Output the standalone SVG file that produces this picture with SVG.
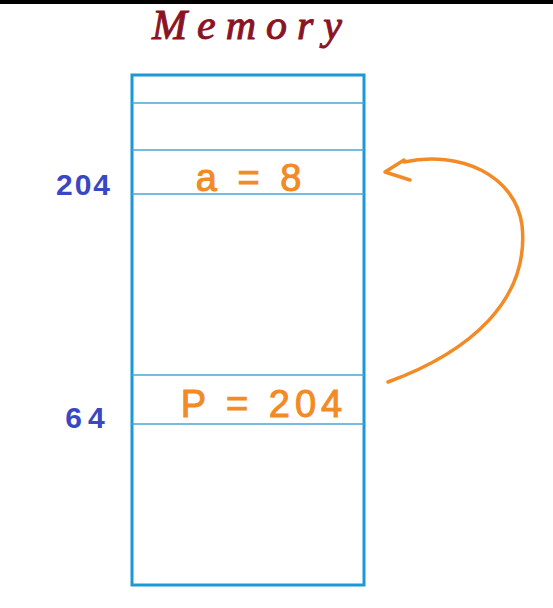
<svg xmlns="http://www.w3.org/2000/svg" width="553" height="608" viewBox="0 0 553 608">
<style>
.addr{fill:#3a47c4;font-size:30px;font-weight:bold;font-family:"Liberation Sans",sans-serif;}
.val{fill:#f28a25;font-size:38px;font-family:"Liberation Sans",sans-serif;stroke:#f28a25;stroke-width:1;}
.row{stroke:#4aa6d6;stroke-width:1.5;}
.conn{fill:none;stroke:#f28a25;stroke-width:3.5;stroke-linecap:round;stroke-linejoin:round;}
</style>
<rect width="553" height="608" fill="#ffffff"/>
<rect x="0" y="0" width="553" height="4" fill="#000000"/>
<g id="title">
<text x="252" y="39" text-anchor="middle" font-family="'Liberation Serif',serif" font-style="italic" font-size="42" fill="#8a1424" stroke="#8a1424" stroke-width="1" letter-spacing="10">Memory</text>
</g>
<g id="memory">
<rect x="132" y="75" width="232" height="510" fill="none" stroke="#1b98d5" stroke-width="3"/>
<line class="row" x1="132" y1="103" x2="364" y2="103"/>
<line class="row" x1="132" y1="150" x2="364" y2="150"/>
<line class="row" x1="132" y1="194" x2="364" y2="194"/>
<line class="row" x1="132" y1="375" x2="364" y2="375"/>
<line class="row" x1="132" y1="424" x2="364" y2="424"/>
</g>
<g id="cell-a">
<text class="val" x="251" y="191" text-anchor="middle" letter-spacing="5">a = 8</text>
</g>
<g id="cell-p">
<text class="val" x="264" y="417" text-anchor="middle" letter-spacing="5">P = 204</text>
</g>
<g id="addr-204">
<text class="addr" x="84" y="195" text-anchor="middle" letter-spacing="2">204</text>
</g>
<g id="addr-64">
<text class="addr" x="88" y="428" text-anchor="middle" letter-spacing="6">64</text>
</g>
<g id="connectors">
<path class="conn" d="M388,382 C470,352 530,300 522,225 C515,175 460,150 404,162"/>
<path class="conn" d="M404,160 L385,172 L410,180"/>
</g>
</svg>
